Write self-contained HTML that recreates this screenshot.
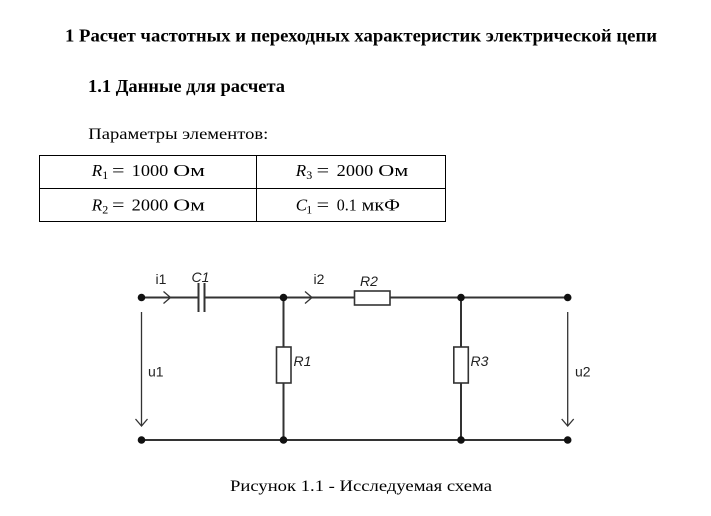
<!DOCTYPE html>
<html><head><meta charset="utf-8"><style>
html,body{margin:0;padding:0;background:#fff;}
svg{display:block;}
</style></head><body>
<svg width="711" height="516" viewBox="0 0 711 516" xmlns="http://www.w3.org/2000/svg">
<rect width="711" height="516" fill="#fff"/>
<g font-family="Liberation Serif, serif" fill="#000">
<text x="65" y="41.5" font-size="18" font-weight="bold" textLength="592" lengthAdjust="spacingAndGlyphs">1 Расчет частотных и переходных характеристик электрической цепи</text>
<text x="88" y="92" font-size="18" font-weight="bold" textLength="197" lengthAdjust="spacingAndGlyphs">1.1 Данные для расчета</text>
<text x="88.3" y="139" font-size="16" textLength="180" lengthAdjust="spacingAndGlyphs">Параметры элементов:</text>
<text x="230" y="491" font-size="16" textLength="262" lengthAdjust="spacingAndGlyphs">Рисунок 1.1 - Исследуемая схема</text>
</g>
<!-- table -->
<g stroke="#000" stroke-width="1" fill="none">
<rect x="39.5" y="155.5" width="406" height="66"/>
<line x1="39.5" y1="188.5" x2="445.5" y2="188.5"/>
<line x1="256.5" y1="155.5" x2="256.5" y2="221.5"/>
</g>
<g font-family="Liberation Serif, serif" fill="#000" font-size="17">
<text x="91.7" y="176" font-style="italic">R</text>
<text x="102.3" y="179" font-size="12">1</text>
<text x="112" y="176" textLength="12.5" lengthAdjust="spacingAndGlyphs">=</text>
<text x="131.7" y="176" textLength="36.6" lengthAdjust="spacingAndGlyphs">1000</text>
<text x="173.3" y="176" textLength="31.7" lengthAdjust="spacingAndGlyphs">Ом</text>

<text x="91.7" y="210.5" font-style="italic">R</text>
<text x="102.3" y="213.5" font-size="12">2</text>
<text x="112" y="210.5" textLength="12.5" lengthAdjust="spacingAndGlyphs">=</text>
<text x="131.7" y="210.5" textLength="36.6" lengthAdjust="spacingAndGlyphs">2000</text>
<text x="173.3" y="210.5" textLength="31.7" lengthAdjust="spacingAndGlyphs">Ом</text>

<text x="295.7" y="176" font-style="italic">R</text>
<text x="306.3" y="179" font-size="12">3</text>
<text x="316.7" y="176" textLength="12.5" lengthAdjust="spacingAndGlyphs">=</text>
<text x="336.7" y="176" textLength="36.6" lengthAdjust="spacingAndGlyphs">2000</text>
<text x="378.3" y="176" textLength="30" lengthAdjust="spacingAndGlyphs">Ом</text>

<text x="295.7" y="210.5" font-style="italic">C</text>
<text x="306.3" y="213.5" font-size="12">1</text>
<text x="316.7" y="210.5" textLength="12.5" lengthAdjust="spacingAndGlyphs">=</text>
<text x="336.7" y="210.5" textLength="20" lengthAdjust="spacingAndGlyphs">0.1</text>
<text x="361.7" y="210.5" textLength="38.3" lengthAdjust="spacingAndGlyphs">мкФ</text>
</g>
<!-- circuit -->
<g stroke="#333" stroke-width="2" fill="none">
<line x1="141" y1="297.5" x2="198.5" y2="297.5"/>
<line x1="204.5" y1="297.5" x2="354.5" y2="297.5"/>
<line x1="390" y1="297.5" x2="567.5" y2="297.5"/>
<line x1="141" y1="440" x2="567.5" y2="440"/>
<line x1="198.5" y1="283" x2="198.5" y2="312"/>
<line x1="204.5" y1="283" x2="204.5" y2="312"/>
<rect x="354.5" y="291" width="35.5" height="14" stroke-width="1.6"/>
<line x1="283.5" y1="297.5" x2="283.5" y2="347"/>
<line x1="283.5" y1="383" x2="283.5" y2="440"/>
<rect x="276.5" y="347" width="14.5" height="36" stroke-width="1.6"/>
<line x1="461" y1="297.5" x2="461" y2="347"/>
<line x1="461" y1="383" x2="461" y2="440"/>
<rect x="453.8" y="347" width="14.5" height="36" stroke-width="1.6"/>
</g>
<g stroke="#333" stroke-width="1.3" fill="none">
<polyline points="163.5,291.5 170.5,297.5 163.5,303.5"/>
<polyline points="305,291.5 312,297.5 305,303.5"/>
<line x1="141.5" y1="312" x2="141.5" y2="426"/>
<polyline points="135.5,419 141.5,426 147.5,419"/>
<line x1="567.7" y1="312" x2="567.7" y2="426"/>
<polyline points="561.7,419 567.7,426 573.7,419"/>
</g>
<g fill="#111">
<circle cx="141.5" cy="297.5" r="3.8"/>
<circle cx="283.5" cy="297.5" r="3.8"/>
<circle cx="461" cy="297.5" r="3.8"/>
<circle cx="567.7" cy="297.5" r="3.8"/>
<circle cx="141.5" cy="440" r="3.8"/>
<circle cx="283.5" cy="440" r="3.8"/>
<circle cx="461" cy="440" r="3.8"/>
<circle cx="567.7" cy="440" r="3.8"/>
</g>
<g font-family="Liberation Sans, sans-serif" font-size="14" fill="#222">
<text x="155.5" y="284">i1</text>
<text x="191.5" y="282" font-style="italic">C1</text>
<text x="313.5" y="284">i2</text>
<text x="360" y="286" font-style="italic">R2</text>
<text x="293.5" y="366" font-style="italic">R1</text>
<text x="470.5" y="366" font-style="italic">R3</text>
<text x="148" y="376.5">u1</text>
<text x="575" y="376.5">u2</text>
</g>
</svg>
</body></html>
